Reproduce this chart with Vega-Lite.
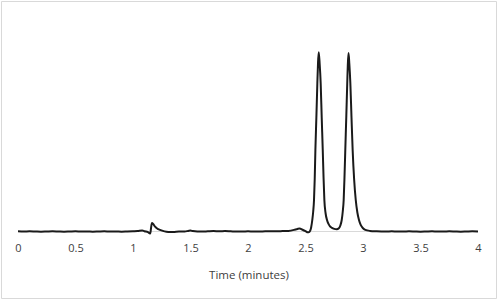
{
  "$schema": "https://vega.github.io/schema/vega-lite/v6.json",
  "width": 495,
  "height": 297,
  "padding": {"left": 1, "top": 1, "right": 3, "bottom": 2},
  "autosize": {"type": "none"},
  "background": "#ffffff",
  "config": {
    "view": {"stroke": "#d9d9d9", "strokeWidth": 1}
  },
  "datasets": {
    "trace": [
      {"t": 0.0, "v": 0.1}, {"t": 0.05, "v": 0.0}, {"t": 0.1, "v": 0.1}, {"t": 0.15, "v": 0.0},
      {"t": 0.2, "v": -0.1}, {"t": 0.25, "v": 0.0}, {"t": 0.3, "v": 0.1}, {"t": 0.35, "v": 0.0},
      {"t": 0.4, "v": -0.1}, {"t": 0.45, "v": 0.0}, {"t": 0.5, "v": 0.1}, {"t": 0.55, "v": 0.0},
      {"t": 0.6, "v": 0.0}, {"t": 0.65, "v": -0.1}, {"t": 0.7, "v": 0.0}, {"t": 0.75, "v": 0.1},
      {"t": 0.8, "v": 0.0}, {"t": 0.85, "v": 0.0}, {"t": 0.9, "v": -0.1}, {"t": 0.95, "v": 0.0},
      {"t": 1.0, "v": 0.1}, {"t": 1.04, "v": 0.2}, {"t": 1.08, "v": 0.5}, {"t": 1.1, "v": 0.1},
      {"t": 1.13, "v": -0.3}, {"t": 1.145, "v": -0.9}, {"t": 1.15, "v": -1.0}, {"t": 1.157, "v": 1.8},
      {"t": 1.165, "v": 4.3}, {"t": 1.175, "v": 3.8}, {"t": 1.19, "v": 2.6}, {"t": 1.21, "v": 1.5},
      {"t": 1.235, "v": 0.8}, {"t": 1.26, "v": 0.3}, {"t": 1.29, "v": -0.1}, {"t": 1.32, "v": -0.3},
      {"t": 1.36, "v": -0.2}, {"t": 1.4, "v": 0.0}, {"t": 1.45, "v": 0.0}, {"t": 1.48, "v": 0.3},
      {"t": 1.5, "v": 0.5}, {"t": 1.52, "v": 0.2}, {"t": 1.56, "v": 0.0}, {"t": 1.6, "v": 0.0},
      {"t": 1.65, "v": 0.1}, {"t": 1.7, "v": 0.2}, {"t": 1.75, "v": 0.1}, {"t": 1.8, "v": 0.2},
      {"t": 1.85, "v": 0.1}, {"t": 1.9, "v": 0.0}, {"t": 1.95, "v": 0.0}, {"t": 2.0, "v": 0.1},
      {"t": 2.05, "v": 0.0}, {"t": 2.1, "v": 0.0}, {"t": 2.15, "v": 0.1}, {"t": 2.2, "v": 0.1},
      {"t": 2.25, "v": 0.1}, {"t": 2.3, "v": 0.2}, {"t": 2.35, "v": 0.3}, {"t": 2.4, "v": 0.8},
      {"t": 2.43, "v": 1.3}, {"t": 2.45, "v": 1.5}, {"t": 2.47, "v": 1.0}, {"t": 2.5, "v": 0.2},
      {"t": 2.52, "v": -0.4}, {"t": 2.532, "v": -0.3}, {"t": 2.541, "v": 0.4}, {"t": 2.549, "v": 2.0},
      {"t": 2.559, "v": 5.75}, {"t": 2.567, "v": 10.0}, {"t": 2.574, "v": 15.75}, {"t": 2.58, "v": 26.0},
      {"t": 2.586, "v": 40.75}, {"t": 2.595, "v": 58.0}, {"t": 2.603, "v": 74.1}, {"t": 2.609, "v": 84.5},
      {"t": 2.615, "v": 89.6}, {"t": 2.623, "v": 84.0}, {"t": 2.632, "v": 74.1}, {"t": 2.641, "v": 57.0},
      {"t": 2.65, "v": 40.75}, {"t": 2.657, "v": 27.0}, {"t": 2.664, "v": 15.75}, {"t": 2.675, "v": 9.0},
      {"t": 2.687, "v": 5.75}, {"t": 2.7, "v": 3.8}, {"t": 2.713, "v": 2.6}, {"t": 2.73, "v": 1.8},
      {"t": 2.75, "v": 1.3}, {"t": 2.771, "v": 1.1}, {"t": 2.79, "v": 1.6}, {"t": 2.803, "v": 3.0},
      {"t": 2.815, "v": 5.75}, {"t": 2.824, "v": 10.0}, {"t": 2.832, "v": 15.75}, {"t": 2.839, "v": 27.0},
      {"t": 2.846, "v": 40.75}, {"t": 2.855, "v": 58.0}, {"t": 2.863, "v": 74.1}, {"t": 2.868, "v": 83.5},
      {"t": 2.874, "v": 89.2}, {"t": 2.881, "v": 84.0}, {"t": 2.89, "v": 74.1}, {"t": 2.9, "v": 57.0},
      {"t": 2.91, "v": 40.75}, {"t": 2.923, "v": 26.0}, {"t": 2.937, "v": 15.75}, {"t": 2.951, "v": 9.5},
      {"t": 2.965, "v": 5.75}, {"t": 2.98, "v": 3.3}, {"t": 3.0, "v": 1.6}, {"t": 3.02, "v": 0.8},
      {"t": 3.06, "v": 0.3}, {"t": 3.12, "v": 0.1}, {"t": 3.2, "v": 0.0}, {"t": 3.25, "v": 0.1},
      {"t": 3.3, "v": 0.0}, {"t": 3.35, "v": 0.0}, {"t": 3.4, "v": 0.1}, {"t": 3.45, "v": 0.0},
      {"t": 3.5, "v": -0.1}, {"t": 3.55, "v": 0.0}, {"t": 3.6, "v": 0.1}, {"t": 3.65, "v": 0.0},
      {"t": 3.7, "v": 0.0}, {"t": 3.75, "v": 0.1}, {"t": 3.8, "v": 0.0}, {"t": 3.85, "v": -0.1},
      {"t": 3.9, "v": 0.0}, {"t": 3.95, "v": 0.1}, {"t": 4.0, "v": 0.0}
    ],
    "baseline": [
      {"t": 0, "t2": 4, "v": 0}
    ]
  },
  "encoding": {
    "x": {
      "field": "t",
      "type": "quantitative",
      "scale": {"domain": [-0.1478, 4.1565], "nice": false, "zero": false},
      "axis": {
        "orient": "bottom",
        "offset": -66.5,
        "values": [0, 0.5, 1, 1.5, 2, 2.5, 3, 3.5, 4],
        "format": "~g",
        "domain": false,
        "ticks": false,
        "grid": false,
        "labelPadding": 11.3,
        "labelFont": "Open Sans",
        "labelFontSize": 11,
        "labelColor": "#404040",
        "title": "Time (minutes)",
        "titleFont": "Open Sans",
        "titleFontSize": 11.5,
        "titleFontWeight": "normal",
        "titleColor": "#404040",
        "titlePadding": 16
      }
    },
    "y": {
      "field": "v",
      "type": "quantitative",
      "scale": {"domain": [-33.25, 115.25], "nice": false, "zero": false},
      "axis": null
    }
  },
  "layer": [
    {
      "data": {"name": "baseline"},
      "mark": {"type": "rule", "color": "#d9d9d9", "strokeWidth": 1},
      "encoding": {
        "x2": {"field": "t2"}
      }
    },
    {
      "data": {"name": "trace"},
      "mark": {"type": "line", "color": "#1a1a1a", "strokeWidth": 2, "interpolate": "monotone"},
      "encoding": {}
    }
  ]
}
